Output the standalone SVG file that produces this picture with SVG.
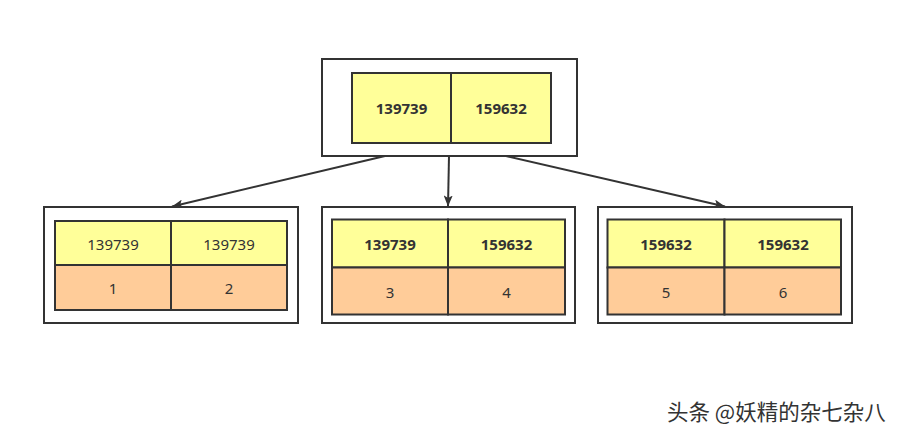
<svg xmlns="http://www.w3.org/2000/svg" width="915" height="437" viewBox="0 0 915 437">
<defs>
<marker id="arr" viewBox="0 0 11 9" refX="11" refY="4.5" markerWidth="11" markerHeight="9" markerUnits="userSpaceOnUse" orient="auto">
<path d="M0,0 L11,4.5 L0,9 L2.5,4.5 Z" fill="#333"/>
</marker>
</defs>
<style>
.outer{fill:#fff;stroke:#333;stroke-width:2}
.key{fill:#ffff99;stroke:#333;stroke-width:2}
.val{fill:#ffcc99;stroke:#333;stroke-width:2}
.t{font-family:"Noto Sans","Open Sans","DejaVu Sans",sans-serif;font-size:15px;fill:#333;text-anchor:middle;dominant-baseline:central}
.b{font-weight:bold}
.edge{stroke:#333;stroke-width:2;fill:none;marker-end:url(#arr)}
.wm{font-family:"Noto Sans CJK SC",sans-serif;font-size:21.5px;fill:#333}
</style>
<rect width="915" height="437" fill="#fff"/>
<g id="edges">
<line class="edge" x1="385" y1="156" x2="172" y2="206.5"/>
<line class="edge" x1="449" y1="156" x2="448" y2="206.5"/>
<line class="edge" x1="506" y1="156" x2="725" y2="206.5"/>
</g>
<g id="root">
<rect class="outer" x="322" y="59" width="255" height="97"/>
<rect class="key" x="352" y="73" width="99" height="70"/>
<rect class="key" x="451" y="73" width="100" height="70"/>
<text class="t b" x="401.5" y="108">139739</text>
<text class="t b" x="501" y="108">159632</text>
</g>
<g id="leaf1">
<rect class="outer" x="44" y="207" width="254" height="116"/>
<rect class="key" x="55" y="221" width="116" height="44"/>
<rect class="key" x="171" y="221" width="116" height="44"/>
<rect class="val" x="55" y="265" width="116" height="45"/>
<rect class="val" x="171" y="265" width="116" height="45"/>
<text class="t" x="113" y="243.5">139739</text>
<text class="t" x="229" y="243.5">139739</text>
<text class="t" x="113" y="288">1</text>
<text class="t" x="229" y="288">2</text>
</g>
<g id="leaf2">
<rect class="outer" x="322" y="207" width="253" height="116"/>
<rect class="key" x="332" y="219.5" width="116" height="48"/>
<rect class="key" x="448" y="219.5" width="117" height="48"/>
<rect class="val" x="332" y="267.5" width="116" height="47"/>
<rect class="val" x="448" y="267.5" width="117" height="47"/>
<text class="t b" x="390" y="243.5">139739</text>
<text class="t b" x="506.5" y="243.5">159632</text>
<text class="t" x="390" y="292">3</text>
<text class="t" x="506.5" y="292">4</text>
</g>
<g id="leaf3">
<rect class="outer" x="598" y="207" width="254" height="116"/>
<rect class="key" x="607.5" y="219.5" width="117" height="48"/>
<rect class="key" x="724.5" y="219.5" width="116.5" height="48"/>
<rect class="val" x="607.5" y="267.5" width="117" height="47"/>
<rect class="val" x="724.5" y="267.5" width="116.5" height="47"/>
<text class="t b" x="666" y="243.5">159632</text>
<text class="t b" x="783" y="243.5">159632</text>
<text class="t" x="666" y="292">5</text>
<text class="t" x="783" y="292">6</text>
</g>
<text class="wm" x="667" y="419.5">头条 @妖精的杂七杂八</text>
</svg>
